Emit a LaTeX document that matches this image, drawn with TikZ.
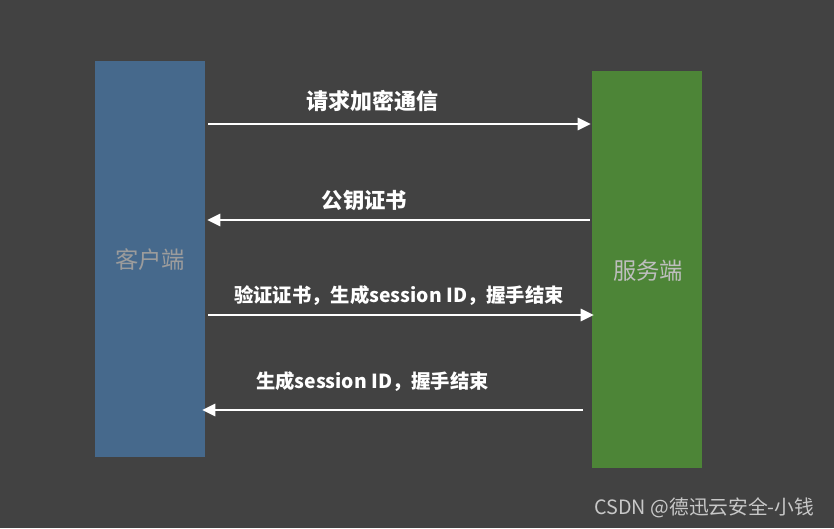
\documentclass[tikz,border=0pt]{standalone}
\usepackage{fontspec}
\setmainfont{Noto Sans CJK SC}
\usepackage{tikz}
\usetikzlibrary{
	arrows.meta,
	positioning,
	calc
}
\usepackage{xcolor}
\definecolor{bgdark}{HTML}{424242}
\definecolor{clientblue}{HTML}{46698C}
\definecolor{servergreen}{HTML}{4D8537}
\definecolor{clienttext}{HTML}{9C9C9C}
\definecolor{servertext}{HTML}{BEBEBE}
\definecolor{marktext}{HTML}{C8C8C8}

\tikzset{
	party/.style={draw=none, minimum width=82.5pt, minimum height=297pt, inner sep=0pt},
	partylabel/.style={font=\fontsize{17.5}{18}\selectfont},
	msg/.style={draw=white, line width=2.2pt, -{Triangle[length=10pt,width=9pt]}},
	msglabel/.style={text=white, font=\bfseries\fontsize{14.5}{15}\selectfont}
}

\begin{document}
\begin{tikzpicture}[x=0.75pt,y=-0.75pt,>=Stealth]
			
			\fill[bgdark] (0,0) rectangle (834,528);
			\useasboundingbox (0,0) rectangle (834,528);
			
			\node[party, fill=clientblue] (client) at (150,259){};
			\node[party, fill=servergreen] (server) at (647,269.5){};
			
			\node[partylabel, text=clienttext] (clientlabel) at (150,260){客户端};
			\node[partylabel, text=servertext] (serverlabel) at (648,271){服务端};
			
			\coordinate (a1) at (208,124);
			\coordinate (b1) at (591,124);
			\coordinate (a2) at (590,220);
			\coordinate (b2) at (207,220);
			\coordinate (a3) at (208,315);
			\coordinate (b3) at (594,315);
			\coordinate (a4) at (583,410);
			\coordinate (b4) at (202,410);
			
			\draw[msg](a1)--(b1);
			\draw[msg](a2)--(b2);
			\draw[msg](a3)--(b3);
			\draw[msg](a4)--(b4);
			
			\node[msglabel, font=\bfseries\fontsize{16.5}{17}\selectfont] (m1) at (372,101){请求加密通信};
			\node[msglabel, font=\bfseries\fontsize{16}{16}\selectfont] (m2) at (364.5,200){公钥证书};
			\node[msglabel] (m3) at (399,296){验证证书，生成session ID，握手结束};
			\node[msglabel] (m4) at (372.5,382){生成session ID，握手结束};
			
			\node[text=marktext, anchor=east, font=\fontsize{14.8}{15}\selectfont] (mark) at (819,508){CSDN @德迅云安全-小钱};
			
		\end{tikzpicture}
\end{document}
